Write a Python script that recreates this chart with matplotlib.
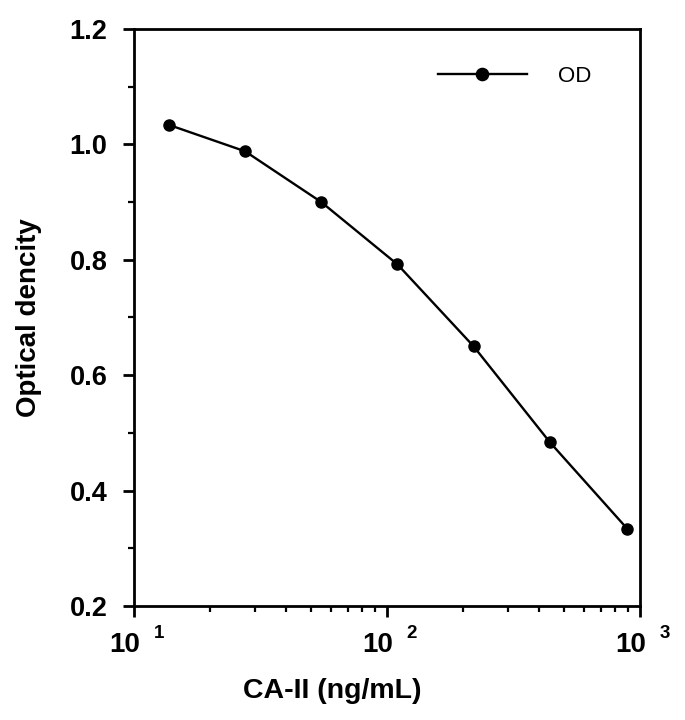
import matplotlib
matplotlib.use("Agg")
import matplotlib.pyplot as plt
import matplotlib.transforms as mtransforms
from matplotlib.ticker import FixedLocator, FixedFormatter, LogLocator, NullFormatter, MultipleLocator

plt.rcParams['font.family'] = ['Liberation Sans', 'DejaVu Sans']
plt.rcParams['font.weight'] = 'bold'

# Data
concentration = [13.7, 27.5, 55, 110, 220, 440, 890]
od_values = [1.034, 0.988, 0.900, 0.792, 0.650, 0.484, 0.334]
series_label = "OD"
x_ticks = [10, 100, 1000]
x_tick_base = ["10", "10", "10"]
x_exponents = ["1", "2", "3"]
y_ticks = [0.2, 0.4, 0.6, 0.8, 1.0, 1.2]

fig = plt.figure(figsize=(6.85, 7.2), dpi=100)
ax = fig.add_axes([134/685, 1-606/720, (640-134)/685, (606-29)/720])

ax.plot(concentration, od_values, color='black', linewidth=1.7, marker='o',
        markersize=8, label=series_label)

ax.set_xscale('log')
ax.set_xlim(10, 1000)
ax.set_ylim(0.2, 1.2)

ax.xaxis.set_major_locator(FixedLocator(x_ticks))
ax.xaxis.set_major_formatter(FixedFormatter(x_tick_base))
ax.xaxis.set_minor_locator(LogLocator(base=10, subs=range(2, 10)))
ax.xaxis.set_minor_formatter(NullFormatter())

ax.yaxis.set_major_locator(FixedLocator(y_ticks))
ax.yaxis.set_major_formatter(FixedFormatter(['%.1f' % v for v in y_ticks]))
ax.yaxis.set_minor_locator(MultipleLocator(0.1))

for s in ax.spines.values():
    s.set_linewidth(2.0)

ax.tick_params(axis='both', which='major', direction='out', length=8, width=2.0)
ax.tick_params(axis='both', which='minor', direction='out', length=4.5, width=1.6)
ax.tick_params(axis='y', which='major', labelsize=19.5, pad=11)
ax.tick_params(axis='x', which='major', labelsize=20, pad=11)

# shift "10" left so that "10" + exponent is centred on tick
shift = mtransforms.ScaledTranslation(-9.5/100, 0, fig.dpi_scale_trans)
for lab in ax.get_xticklabels():
    lab.set_transform(lab.get_transform() + shift)

# exponents
blend = mtransforms.blended_transform_factory(ax.transData, ax.transAxes)
exp_off = mtransforms.ScaledTranslation(25/100, -27/100, fig.dpi_scale_trans)
for xv, e in zip(x_ticks, x_exponents):
    ax.text(xv, 0, e, transform=blend + exp_off, ha='center', va='center',
            fontsize=13.5, fontweight='bold', clip_on=False)

ax.set_xlabel('CA-II (ng/mL)', fontsize=20.5, fontweight='bold')
ax.xaxis.set_label_coords(0.392, -0.125)
ax.set_ylabel('Optical dencity', fontsize=20, fontweight='bold')
ax.yaxis.set_label_coords(-0.182, 0.5)

ax.legend(loc='center left', bbox_to_anchor=(438/685, 1-76/720),
          bbox_transform=fig.transFigure, frameon=False,
          prop={'size': 16, 'weight': 'normal'},
          handlelength=4.0, handletextpad=1.4, borderpad=0, borderaxespad=0,
          markerscale=1.1)

fig.savefig('out.png', dpi=100)
